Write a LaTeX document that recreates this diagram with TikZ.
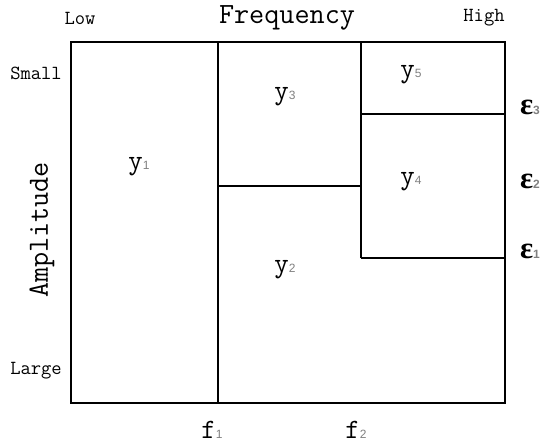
\documentclass[tikz,border=0pt]{standalone}
\usepackage{fontspec}
\setmainfont{Liberation Serif}
\setsansfont{Liberation Sans}
\newcommand{\idx}[1]{{\sffamily\fontsize{9}{9}\selectfont\color{gray}#1}}

\begin{document}
\begin{tikzpicture}[x=0.75pt, y=-0.75pt,
  grid/.style={line width=0.8pt, black},
  axis/.style={font=\ttfamily\fontsize{22}{22}\selectfont, inner sep=0pt},
  level/.style={font=\ttfamily\fontsize{15}{15}\selectfont, inner sep=0pt},
  cell/.style={font=\ttfamily\fontsize{21}{21}\selectfont, inner sep=0pt},
  thresh/.style={font=\bfseries\fontsize{23}{23}\selectfont, inner sep=0pt}
]
\useasboundingbox (0,0) rectangle (543,444);

% partition of the plane
\draw [grid] (71,42) rectangle (505,403);
\draw [grid] (218,42) -- (218,403);
\draw [grid] (361,42) -- (361,258);
\draw [grid] (218,186) -- (361,186);
\draw [grid] (361,114) -- (505,114);
\draw [grid] (361,258) -- (505,258);

% axes
\node (freq) [axis] at (287,18) {Frequency};
\node (amp) [axis, rotate=90] at (42,230) {Amplitude};
\node (low) [level] at (80,18) {Low};
\node (high) [level] at (484,18) {High};
\node (small) [level] at (36,73) {Small};
\node (large) [level] at (36,371) {Large};

% cells
\node (y1) [cell] at (139,167) {y\idx{1}};
\node (y2) [cell] at (285,270) {y\idx{2}};
\node (y3) [cell] at (285,97) {y\idx{3}};
\node (y4) [cell] at (411,182) {y\idx{4}};
\node (y5) [cell] at (411,75) {y\idx{5}};

% thresholds
\node (e3) [thresh] at (530,107) {ε\idx{3}};
\node (e2) [thresh] at (530,181) {ε\idx{2}};
\node (e1) [thresh] at (530,251) {ε\idx{1}};
\node (f1) [cell] at (212,430) {f\idx{1}};
\node (f2) [cell] at (356,430) {f\idx{2}};

\end{tikzpicture}
\end{document}
